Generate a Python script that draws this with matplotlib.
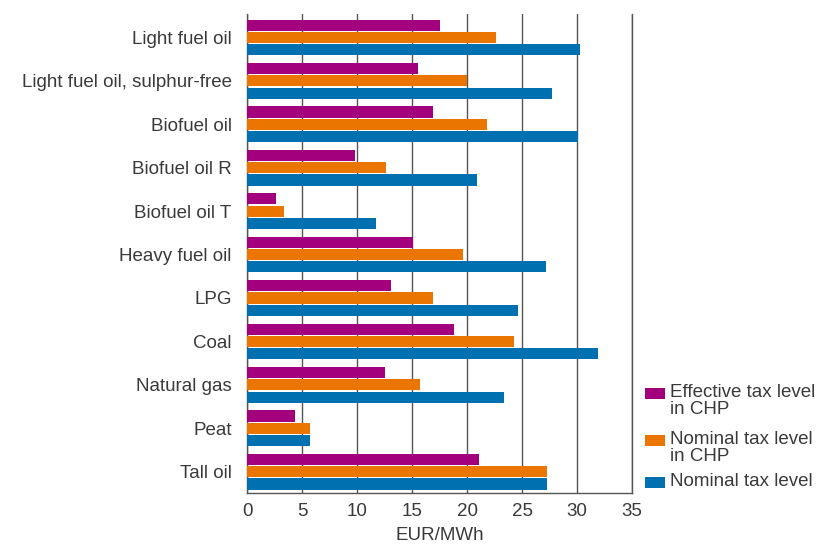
import numpy as np
import matplotlib
matplotlib.use("Agg")
from matplotlib import pyplot as plt
from matplotlib.patches import Rectangle

plt.rcParams['font.family'] = ['Liberation Sans', 'DejaVu Sans']

fuels = ["Light fuel oil", "Light fuel oil, sulphur-free", "Biofuel oil",
         "Biofuel oil R", "Biofuel oil T", "Heavy fuel oil", "LPG", "Coal",
         "Natural gas", "Peat", "Tall oil"]
effective_chp = [17.5, 15.5, 16.9, 9.8, 2.6, 15.1, 13.1, 18.8, 12.5, 4.4, 21.1]
nominal_chp = [22.6, 20.0, 21.8, 12.6, 3.4, 19.6, 16.9, 24.3, 15.7, 5.7, 27.3]
nominal = [30.3, 27.7, 30.1, 20.9, 11.7, 27.2, 24.6, 31.9, 23.4, 5.7, 27.3]

series = [
    ("Effective tax level\nin CHP", effective_chp, "#a3007d"),
    ("Nominal tax level\nin CHP", nominal_chp, "#ea7500"),
    ("Nominal tax level", nominal, "#0070b0"),
]
txt = '#3a3a3a'
fs = 13.5

W, H = 822, 548
fig = plt.figure(figsize=(W / 100, H / 100), dpi=100)
ax = fig.add_axes([0.3005, 0.1004, 0.4684, 0.8741])

y = np.arange(len(fuels))
slot = 0.283
height = 0.255
for i, (name, vals, col) in enumerate(series):
    ax.barh(y + (i - 1) * slot, vals, height, color=col, zorder=3)

ax.set_xlim(0, 35)
ax.set_ylim(10.49, -0.54)
ax.set_xticks(np.arange(0, 36, 5))
ax.set_yticks(y, fuels)
ax.grid(axis='x', color='#555555', linewidth=1.0, zorder=0)
ax.tick_params(axis='both', length=0, labelsize=fs, colors=txt)
ax.tick_params(axis='y', pad=11)
ax.tick_params(axis='x', pad=7)
ax.spines['top'].set_visible(False)
for side in ['left', 'right', 'bottom']:
    ax.spines[side].set_color('#555555')
    ax.spines[side].set_linewidth(1.0)
ax.set_xlabel("EUR/MWh", fontsize=fs, color=txt, labelpad=5)

# legend drawn by hand so the swatch sits beside the first text line
tops = [383, 430, 472]
for (name, _, col), top in zip(series, tops):
    fig.patches.append(Rectangle((645 / W, 1 - (top + 16) / H), 20 / W, 11 / H,
                                 transform=fig.transFigure, facecolor=col,
                                 edgecolor='none'))
    fig.text(670 / W, 1 - (top + 1) / H, name, fontsize=fs, color=txt,
             va='top', ha='left', linespacing=1.02)

fig.savefig("out.png", dpi=100)
